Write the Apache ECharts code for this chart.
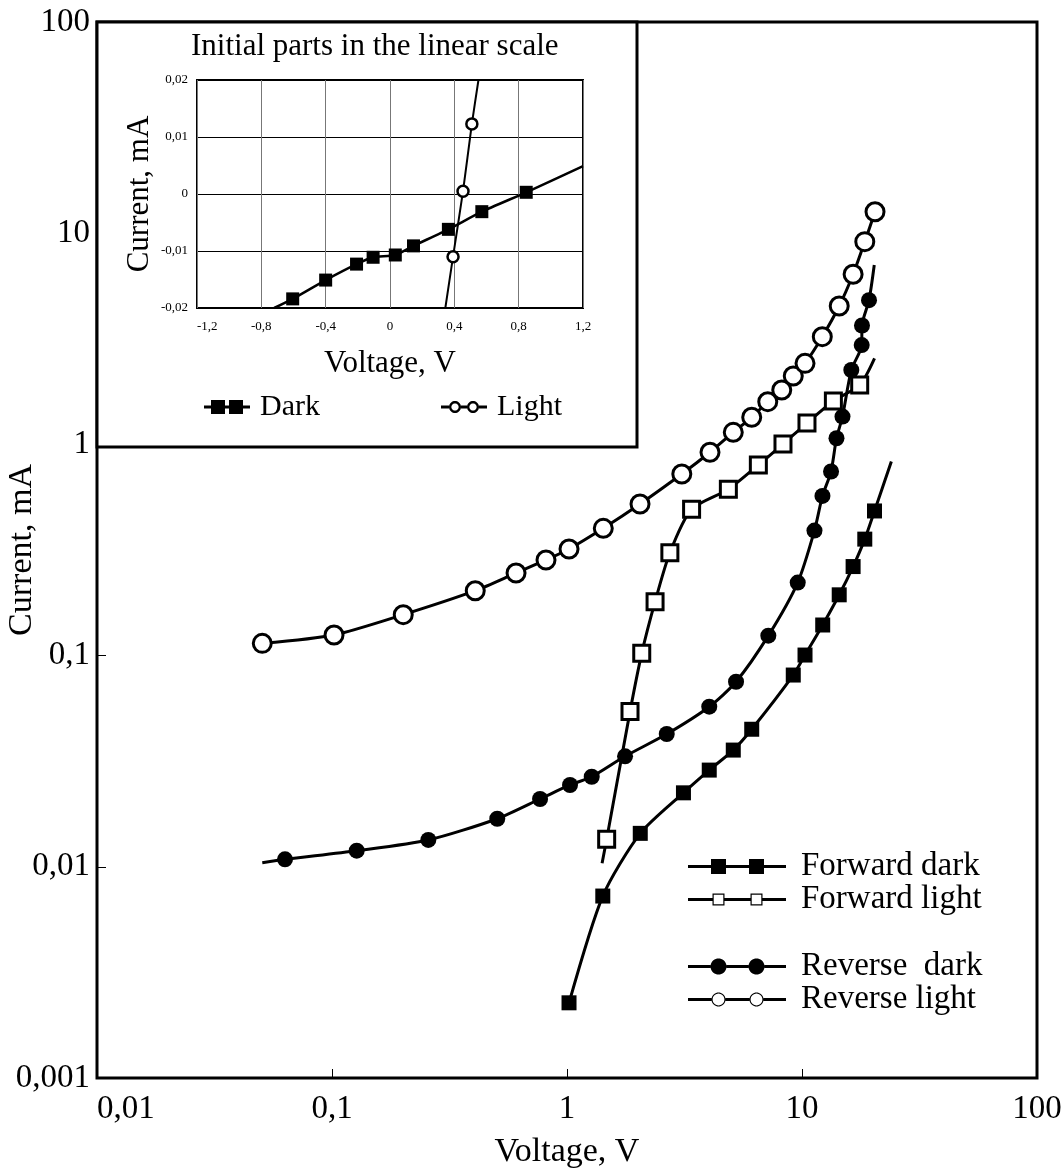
<!DOCTYPE html>
<html><head><meta charset="utf-8">
<script src="https://cdn.jsdelivr.net/npm/echarts@6/dist/echarts.min.js"></script>
<style>html,body{margin:0;padding:0;background:#fff}#c{width:1064px;height:1172px}</style>
</head><body><div id="c"></div>
<script>
const FONT = '"Liberation Serif", "Times New Roman", serif';

// ---------- tick labels ----------
const mainXTicks = ['0,01', '0,1', '1', '10', '100'];
const mainYTicks = ['0,001', '0,01', '0,1', '1', '10', '100'];
const insetXTicks = ['-1,2', '-0,8', '-0,4', '0', '0,4', '0,8', '1,2'];
const insetYTicks = ['-0,02', '-0,01', '0', '0,01', '0,02'];

// ---------- main plot data (Voltage V, Current mA) ----------
const fwdDarkV = [1.02, 1.42, 2.05, 3.13, 4.03, 5.10, 6.11, 9.18, 10.3, 12.25, 14.4, 16.5, 18.5, 20.35];
const fwdDarkI = [0.00227, 0.00727, 0.0144, 0.0224, 0.0287, 0.0357, 0.0448, 0.0809, 0.1006, 0.1396, 0.194, 0.264, 0.356, 0.484];
const fwdDarkTailV = [24.0];
const fwdDarkTailI = [0.83];

const fwdLightHeadV = [1.41];
const fwdLightHeadI = [0.0104];
const fwdLightV = [1.475, 1.854, 2.08, 2.37, 2.74, 3.39, 4.86, 6.52, 8.3, 10.5, 13.6, 17.6];
const fwdLightI = [0.0135, 0.0543, 0.1025, 0.180, 0.307, 0.493, 0.613, 0.799, 1.004, 1.262, 1.605, 1.91];
const fwdLightTailV = [20.35];
const fwdLightTailI = [2.556];

const revDarkHeadV = [0.0505];
const revDarkHeadI = [0.01046];
const revDarkV = [0.0631, 0.1274, 0.257, 0.505, 0.768, 1.03, 1.274, 1.766, 2.657, 4.03, 5.24, 7.19, 9.59, 11.3, 12.22, 13.29, 14.02, 14.87, 16.21, 17.95, 18.0, 19.28];
const revDarkI = [0.01085, 0.01192, 0.0134, 0.01689, 0.02094, 0.0244, 0.0267, 0.03336, 0.04253, 0.0573, 0.0752, 0.1243, 0.2218, 0.391, 0.570, 0.744, 1.069, 1.355, 2.25, 2.954, 3.656, 4.816];
const revDarkTailV = [20.3];
const revDarkTailI = [7.07];

const revLightV = [0.0505, 0.102, 0.201, 0.407, 0.607, 0.814, 1.02, 1.427, 2.045, 3.08, 4.06, 5.1, 6.11, 7.15, 8.2, 9.18, 10.3, 12.2, 14.4, 16.5, 18.5, 20.45];
const revLightI = [0.1143, 0.1252, 0.1562, 0.2029, 0.2461, 0.2836, 0.3197, 0.4006, 0.522, 0.724, 0.918, 1.141, 1.344, 1.593, 1.809, 2.108, 2.42, 3.236, 4.52, 6.39, 9.12, 12.63];

// ---------- inset data (linear scale) ----------
const insDarkHeadV = [-0.72];
const insDarkHeadI = [-0.02];
const insDarkV = [-0.605, -0.40, -0.208, -0.105, 0.033, 0.146, 0.363, 0.571, 0.847];
const insDarkI = [-0.0184, -0.0151, -0.0123, -0.0111, -0.0107, -0.0091, -0.0062, -0.0031, 0.0003];
const insDarkTailV = [1.2];
const insDarkTailI = [0.0049];

const insLightHeadV = [0.344];
const insLightHeadI = [-0.02];
const insLightV = [0.392, 0.454, 0.509];
const insLightI = [-0.011, 0.0005, 0.0123];
const insLightTailV = [0.55];
const insLightTailI = [0.02];

function build(headV, headI, v, i, tailV, tailI) {
  const d = [];
  headV.forEach((x, k) => d.push({ value: [x, headI[k]], symbol: 'none' }));
  v.forEach((x, k) => d.push([x, i[k]]));
  tailV.forEach((x, k) => d.push({ value: [x, tailI[k]], symbol: 'none' }));
  return d;
}

// ---------- legend icon geometry helpers ----------
function rectCW(x, y, w, h) { return `M${x},${y}L${x + w},${y}L${x + w},${y + h}L${x},${y + h}Z`; }
function rectCCW(x, y, w, h) { return `M${x},${y}L${x},${y + h}L${x + w},${y + h}L${x + w},${y}Z`; }
function circ(cx, cy, r, ccw) {
  let s = '';
  const n = 36;
  for (let k = 0; k <= n; k++) {
    const a = (ccw ? -1 : 1) * k / n * Math.PI * 2;
    const x = (cx + r * Math.cos(a)).toFixed(2), y = (cy + r * Math.sin(a)).toFixed(2);
    s += (k === 0 ? 'M' : 'L') + x + ',' + y;
  }
  return s + 'Z';
}
function icon(W, H, centers, kind, size, border, lw) {
  const cy = H / 2;
  let p = `M0,0L0,0M${W},${H}L${W},${H}`;
  let x0 = 0;
  centers.forEach(c => {
    const a = c - size / 2;
    if (a > x0) p += rectCW(x0, cy - lw / 2, a - x0, lw);
    x0 = c + size / 2;
  });
  if (W > x0) p += rectCW(x0, cy - lw / 2, W - x0, lw);
  centers.forEach(c => {
    if (kind === 'rect') {
      p += rectCW(c - size / 2, cy - size / 2, size, size);
      if (border) p += rectCCW(c - size / 2 + border, cy - size / 2 + border, size - 2 * border, size - 2 * border);
    } else {
      p += circ(c, cy, size / 2, false);
      if (border) p += circ(c, cy, size / 2 - border, true);
    }
  });
  return 'path://' + p;
}

const LW = 98, LH = 16;
const legendItemStyle = { color: '#000', borderWidth: 0, borderColor: 'rgba(0,0,0,0)' };
const legendText = { fontFamily: FONT, fontSize: 33, color: '#000', padding: [0, 0, 0, 10], lineHeight: 32 };

const chart = echarts.init(document.getElementById('c'), null, { renderer: 'canvas' });

const lineBlack = w => ({ color: '#000', width: w });

const option = {
  animation: false,
  backgroundColor: '#fff',
  title: [{
    text: 'Initial parts in the linear scale',
    left: 186, top: 26,
    textStyle: { fontFamily: FONT, fontSize: 31, fontWeight: 'normal', color: '#000' },
    z: 6
  }],
  graphic: [{
    type: 'rect', z: 1,
    shape: { x: 97, y: 22, width: 540, height: 425 },
    style: { fill: '#fff', stroke: '#000', lineWidth: 3 }
  }],
  legend: [
    {
      left: 683, top: 845, orient: 'vertical', itemGap: 0,
      itemWidth: LW, itemHeight: LH, textStyle: legendText, selectedMode: false,
      data: [
        { name: 'Forward dark', icon: icon(LW, LH, [30.5, 68.5], 'rect', 15, 0, 3), itemStyle: legendItemStyle },
        { name: 'Forward light', icon: icon(LW, LH, [30.5, 68.5], 'rect', 12, 1.2, 3), itemStyle: legendItemStyle }
      ]
    },
    {
      left: 683, top: 945, orient: 'vertical', itemGap: 0,
      itemWidth: LW, itemHeight: LH, textStyle: legendText, selectedMode: false,
      data: [
        { name: 'Reverse  dark', icon: icon(LW, LH, [30.5, 68.5], 'circle', 16, 0, 3), itemStyle: legendItemStyle },
        { name: 'Reverse light', icon: icon(LW, LH, [30.5, 68.5], 'circle', 14, 1.1, 3), itemStyle: legendItemStyle }
      ]
    },
    {
      left: 199, top: 387, itemWidth: 46, itemHeight: 15, selectedMode: false, z: 6,
      textStyle: { fontFamily: FONT, fontSize: 30, color: '#000', padding: [0, 0, 0, 5] },
      data: [{ name: 'Dark', icon: icon(46, 15, [14, 32], 'rect', 14, 0, 3), itemStyle: legendItemStyle }]
    },
    {
      left: 436, top: 387, itemWidth: 46, itemHeight: 15, selectedMode: false, z: 6,
      textStyle: { fontFamily: FONT, fontSize: 30, color: '#000', padding: [0, 0, 0, 5] },
      data: [{ name: 'Light', icon: icon(46, 13, [14, 32], 'circle', 12, 2.4, 3), itemStyle: legendItemStyle }]
    }
  ],
  grid: [
    { left: 97, top: 22, width: 940, height: 1056, show: true, borderColor: '#000', borderWidth: 3, backgroundColor: 'transparent', containLabel: false, outerBoundsMode: 'none' },
    { left: 197, top: 80, width: 386, height: 228, show: true, borderColor: '#000', borderWidth: 2, backgroundColor: '#fff', z: 5, containLabel: false, outerBoundsMode: 'none' }
  ],
  xAxis: [
    {
      type: 'log', logBase: 10, gridIndex: 0, min: 0.01, max: 100, splitNumber: 4,
      axisLine: { show: false },
      axisTick: { show: true, inside: true, length: 9, lineStyle: { color: '#000', width: 1 } },
      splitLine: { show: false },
      axisLabel: {
        fontFamily: FONT, fontSize: 33, color: '#000', margin: 15, alignMinLabel: 'left',
        formatter: v => mainXTicks[Math.round(Math.log10(v)) + 2]
      },
      name: 'Voltage, V', nameLocation: 'middle', nameGap: 57, nameMoveOverlap: false,
      nameTextStyle: { fontFamily: FONT, fontSize: 34, color: '#000' }
    },
    {
      type: 'value', gridIndex: 1, min: -1.2, max: 1.2, interval: 0.4, z: 5,
      axisLine: { show: false },
      axisTick: { show: false },
      splitLine: { show: true, lineStyle: { color: '#777', width: 1 } },
      axisLabel: {
        fontFamily: FONT, fontSize: 13, color: '#000', margin: 12, alignMinLabel: 'left',
        formatter: v => insetXTicks[Math.round((v + 1.2) / 0.4)]
      },
      name: 'Voltage, V', nameLocation: 'middle', nameGap: 40, nameMoveOverlap: false,
      nameTextStyle: { fontFamily: FONT, fontSize: 31, color: '#000' }
    }
  ],
  yAxis: [
    {
      type: 'log', logBase: 10, gridIndex: 0, min: 0.001, max: 100, splitNumber: 5,
      axisLine: { show: false },
      axisTick: { show: true, inside: true, length: 9, lineStyle: { color: '#000', width: 1 } },
      splitLine: { show: false },
      axisLabel: {
        fontFamily: FONT, fontSize: 33, color: '#000', margin: 7,
        formatter: v => mainYTicks[Math.round(Math.log10(v)) + 3]
      },
      name: 'Current, mA', nameLocation: 'middle', nameGap: 58, nameMoveOverlap: false,
      nameTextStyle: { fontFamily: FONT, fontSize: 34, color: '#000' }
    },
    {
      type: 'value', gridIndex: 1, min: -0.02, max: 0.02, interval: 0.01, z: 5,
      axisLine: { show: false },
      axisTick: { show: false },
      splitLine: { show: true, lineStyle: { color: '#000', width: 1 } },
      axisLabel: {
        fontFamily: FONT, fontSize: 13, color: '#000', margin: 9,
        formatter: v => insetYTicks[Math.round((v + 0.02) / 0.01)]
      },
      name: 'Current, mA', nameLocation: 'middle', nameGap: 42, nameMoveOverlap: false,
      nameTextStyle: { fontFamily: FONT, fontSize: 31, color: '#000' }
    }
  ],
  series: [
    {
      name: 'Forward dark', type: 'line', xAxisIndex: 0, yAxisIndex: 0, smooth: 0.25,
      symbol: 'rect', symbolSize: 15, itemStyle: { color: '#000' }, lineStyle: lineBlack(3),
      data: build([], [], fwdDarkV, fwdDarkI, fwdDarkTailV, fwdDarkTailI), z: 3
    },
    {
      name: 'Forward light', type: 'line', xAxisIndex: 0, yAxisIndex: 0, smooth: 0.25,
      symbol: 'rect', symbolSize: 16, itemStyle: { color: '#fff', borderColor: '#000', borderWidth: 3 }, lineStyle: lineBlack(3),
      data: build(fwdLightHeadV, fwdLightHeadI, fwdLightV, fwdLightI, fwdLightTailV, fwdLightTailI), z: 3
    },
    {
      name: 'Reverse  dark', type: 'line', xAxisIndex: 0, yAxisIndex: 0, smooth: 0.25,
      symbol: 'circle', symbolSize: 16, itemStyle: { color: '#000' }, lineStyle: lineBlack(3),
      data: build(revDarkHeadV, revDarkHeadI, revDarkV, revDarkI, revDarkTailV, revDarkTailI), z: 3
    },
    {
      name: 'Reverse light', type: 'line', xAxisIndex: 0, yAxisIndex: 0, smooth: 0.25,
      symbol: 'circle', symbolSize: 18, itemStyle: { color: '#fff', borderColor: '#000', borderWidth: 3 }, lineStyle: lineBlack(3),
      data: build([], [], revLightV, revLightI, [], []), z: 3
    },
    {
      name: 'Dark', type: 'line', xAxisIndex: 1, yAxisIndex: 1, smooth: 0.2, clip: true,
      symbol: 'rect', symbolSize: 13, itemStyle: { color: '#000' }, lineStyle: lineBlack(2.5),
      data: build(insDarkHeadV, insDarkHeadI, insDarkV, insDarkI, insDarkTailV, insDarkTailI), z: 7
    },
    {
      name: 'Light', type: 'line', xAxisIndex: 1, yAxisIndex: 1, smooth: 0.2, clip: true,
      symbol: 'circle', symbolSize: 11, itemStyle: { color: '#fff', borderColor: '#000', borderWidth: 2.5 }, lineStyle: lineBlack(2),
      data: build(insLightHeadV, insLightHeadI, insLightV, insLightI, insLightTailV, insLightTailI), z: 7
    }
  ]
};
chart.setOption(option);
</script>
</body></html>
